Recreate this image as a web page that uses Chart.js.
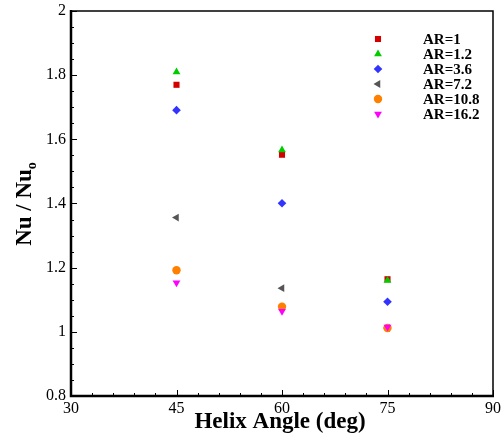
<!DOCTYPE html>
<html>
  <head>
    <script src="https://cdn.jsdelivr.net/npm/chart.js"></script>
    <title>Nu ratio vs helix angle</title>
    <style>
      body {
        margin: 0;
        background-color: white;
      }
    </style>
  </head>
  <body>
    <canvas id="myChart" width="501" height="439"></canvas>
    <script>
      // values
      var angles = [45, 60, 75];
      var labels = ['AR=1', 'AR=1.2', 'AR=3.6', 'AR=7.2', 'AR=10.8', 'AR=16.2'];
      var ar1 = [1.770, 1.552, 1.164];
      var ar12 = [1.810, 1.567, 1.160];
      var ar36 = [1.691, 1.401, 1.094];
      var ar72 = [1.356, 1.136, 1.012];
      var ar108 = [1.192, 1.078, 1.012];
      var ar162 = [1.153, 1.064, 1.015];
      var xTicks = [30, 45, 60, 75, 90];
      var yTicks = [0.8, 1, 1.2, 1.4, 1.6, 1.8, 2];

      var series = [ar1, ar12, ar36, ar72, ar108, ar162];
      var colors = ['#d40000', '#00cc00', '#3333ff', '#555555', '#ff8000', '#ff00ff'];
      var styles = ['rect', 'triangle', 'rectRot', 'triangle', 'circle', 'triangle'];
      var rotations = [0, 0, 0, -90, 0, 180];
      var radii = [4.3, 4.5, 4.3, 4.5, 4.2, 4.5];

      var datasets = [];
      for (var i = 0; i < series.length; i++) {
        var pts = [];
        for (var j = 0; j < angles.length; j++) {
          pts.push({ x: angles[j], y: series[i][j] });
        }
        datasets.push({
          label: labels[i],
          data: pts,
          pointStyle: styles[i],
          rotation: rotations[i],
          pointRadius: radii[i],
          pointHoverRadius: radii[i],
          backgroundColor: colors[i],
          borderColor: colors[i],
          borderWidth: 0,
          showLine: false,
          order: series.length - i
        });
      }

      var serif = '"Liberation Serif", "Times New Roman", serif';

      // frame, inward ticks, axis titles and legend
      var decor = {
        id: 'decor',
        afterDraw: function(chart) {
          var ctx = chart.ctx;
          var a = chart.chartArea;
          var xs = chart.scales.x;
          var ys = chart.scales.y;
          ctx.save();
          ctx.strokeStyle = '#000';

          // ticks
          ctx.lineWidth = 1;
          ctx.beginPath();
          for (var v = 30; v <= 90.001; v += 3) {
            var px = Math.round(xs.getPixelForValue(v)) + 0.5;
            var len = (Math.round(v) % 15 === 0) ? 6 : 3;
            ctx.moveTo(px, a.bottom);
            ctx.lineTo(px, a.bottom - len);
          }
          for (var k = 0; k <= 24; k++) {
            var yv = 0.8 + k * 0.05;
            var py = Math.round(ys.getPixelForValue(yv)) + 0.5;
            var ylen = (k % 4 === 0) ? 6 : 3;
            ctx.moveTo(a.left, py);
            ctx.lineTo(a.left + ylen, py);
          }
          ctx.stroke();

          // box
          ctx.lineWidth = 1.5;
          ctx.beginPath();
          ctx.moveTo(a.left, a.top);
          ctx.lineTo(a.right, a.top);
          ctx.lineTo(a.right, a.bottom);
          ctx.stroke();
          ctx.lineWidth = 2.5;
          ctx.beginPath();
          ctx.moveTo(a.right + 1, a.bottom);
          ctx.lineTo(a.left, a.bottom);
          ctx.lineTo(a.left, a.top - 1);
          ctx.stroke();

          // x title
          ctx.fillStyle = '#000';
          ctx.font = 'bold 23px ' + serif;
          ctx.textAlign = 'center';
          ctx.textBaseline = 'middle';
          ctx.fillText('Helix Angle (deg)', (a.left + a.right) / 2 - 2, 422);

          // y title with subscript
          ctx.save();
          ctx.translate(23, 204);
          ctx.rotate(-Math.PI / 2);
          ctx.textAlign = 'left';
          ctx.textBaseline = 'alphabetic';
          ctx.font = 'bold 23px ' + serif;
          var main = 'Nu / Nu';
          var w1 = ctx.measureText(main).width;
          ctx.font = 'bold 14px ' + serif;
          var w2 = ctx.measureText('o').width;
          var x0 = -(w1 + w2) / 2;
          ctx.font = 'bold 23px ' + serif;
          ctx.fillText(main, x0, 8);
          ctx.font = 'bold 14px ' + serif;
          ctx.fillText('o', x0 + w1, 13);
          ctx.restore();

          // legend
          ctx.font = 'bold 15px ' + serif;
          ctx.textAlign = 'left';
          ctx.textBaseline = 'middle';
          for (var n = 0; n < datasets.length; n++) {
            var ly = 39 + n * 15;
            ctx.fillStyle = colors[n];
            Chart.helpers.drawPoint(ctx, {
              pointStyle: styles[n],
              radius: radii[n],
              rotation: rotations[n],
              borderWidth: 0
            }, 378, ly);
            ctx.fillStyle = '#000';
            ctx.fillText(labels[n], 423, ly + 1);
          }
          ctx.restore();
        }
      };

      var ctx = document.getElementById('myChart').getContext('2d');
      var chart = new Chart(ctx, {
        type: 'scatter',
        data: { datasets: datasets },
        options: {
          responsive: false,
          animation: false,
          layout: { padding: { top: 11, right: 8, left: 0, bottom: 0 } },
          plugins: {
            legend: { display: false },
            tooltip: { enabled: false }
          },
          scales: {
            x: {
              type: 'linear',
              min: 30,
              max: 90,
              afterBuildTicks: function(s) {
                s.ticks = xTicks.map(function(v) { return { value: v }; });
              },
              afterFit: function(s) {
                s.height = 43;
                s.paddingLeft = 0;
                s.paddingRight = 0;
              },
              grid: { display: false, drawTicks: false },
              border: { display: false },
              ticks: {
                color: '#000',
                padding: 3,
                font: { family: serif, size: 16 },
                maxRotation: 0
              }
            },
            y: {
              type: 'linear',
              min: 0.8,
              max: 2,
              afterBuildTicks: function(s) {
                s.ticks = yTicks.map(function(v) { return { value: v }; });
              },
              afterFit: function(s) {
                s.width = 71;
                s.paddingTop = 0;
                s.paddingBottom = 0;
              },
              grid: { display: false, drawTicks: false },
              border: { display: false },
              ticks: {
                color: '#000',
                padding: 5,
                font: { family: serif, size: 16 },
                callback: function(v) { return String(Math.round(v * 10) / 10); }
              }
            }
          }
        },
        plugins: [decor]
      });
    </script>
  </body>
</html>
